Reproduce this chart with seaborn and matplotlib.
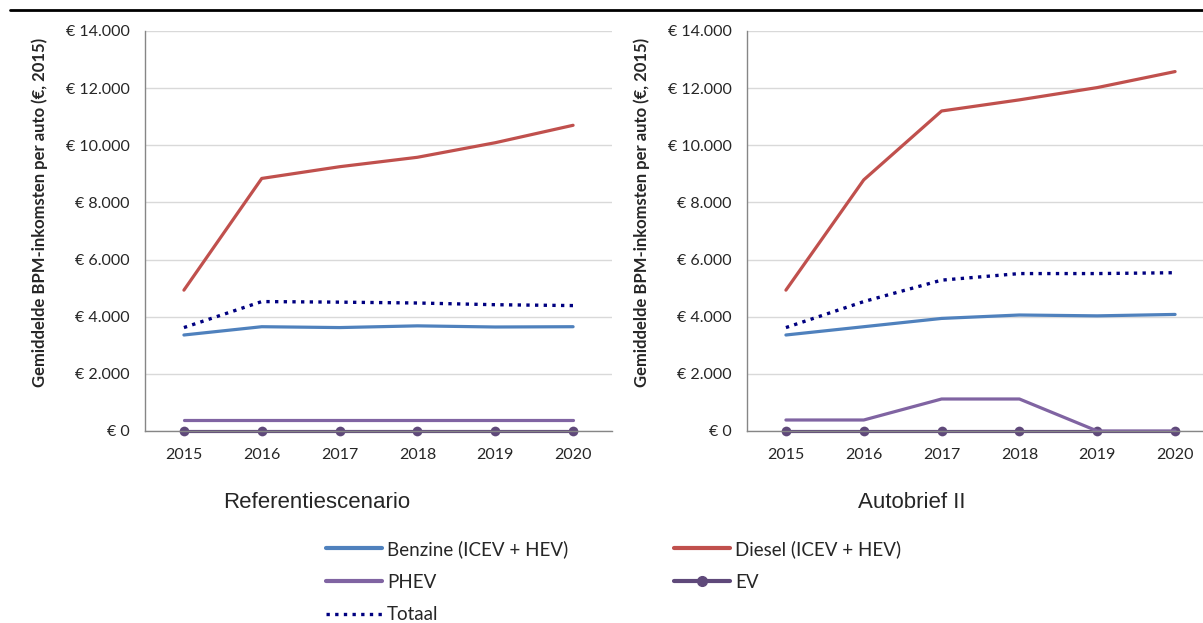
import numpy as np
import pandas as pd
import seaborn as sns
import matplotlib.pyplot as plt
from matplotlib.lines import Line2D
from matplotlib.ticker import FuncFormatter

# Data (euro per car, 2015 prices)
years = [2015, 2016, 2017, 2018, 2019, 2020]
panel_titles = ["Referentiescenario", "Autobrief II"]
series_names = ["Benzine (ICEV + HEV)", "Diesel (ICEV + HEV)", "PHEV", "EV", "Totaal"]

ref_benzine = [3360, 3650, 3620, 3680, 3640, 3650]
ref_diesel = [4930, 8840, 9250, 9580, 10090, 10700]
ref_phev = [385, 385, 385, 385, 385, 385]
ref_ev = [0, 0, 0, 0, 0, 0]
ref_totaal = [3620, 4530, 4510, 4480, 4420, 4390]

ab_benzine = [3360, 3650, 3940, 4060, 4030, 4080]
ab_diesel = [4930, 8790, 11200, 11590, 12020, 12580]
ab_phev = [385, 385, 1120, 1120, 0, 0]
ab_ev = [0, 0, 0, 0, 0, 0]
ab_totaal = [3620, 4530, 5280, 5510, 5510, 5540]

colors = {"Benzine (ICEV + HEV)": "#4F81BD", "Diesel (ICEV + HEV)": "#C0504D",
          "PHEV": "#8064A2", "EV": "#5F497A", "Totaal": "#000080"}

sns.set_style("white")
plt.rcParams['font.family'] = ['Lato', 'DejaVu Sans']

fig = plt.figure(figsize=(12.03, 6.23), dpi=100)
ax_l = fig.add_axes([145 / 1203, 1 - 431 / 623, 467 / 1203, 400 / 623])
ax_r = fig.add_axes([747 / 1203, 1 - 431 / 623, 467 / 1203, 400 / 623])

panels = [
    (ax_l, [ref_benzine, ref_diesel, ref_phev, ref_ev, ref_totaal]),
    (ax_r, [ab_benzine, ab_diesel, ab_phev, ab_ev, ab_totaal]),
]

euro = FuncFormatter(lambda v, p: "€ " + f"{int(v):,}".replace(",", "."))
xpos = np.arange(len(years))

for (ax, values), title in zip(panels, panel_titles):
    df = pd.DataFrame({name: vals for name, vals in zip(series_names, values)})
    df["pos"] = xpos
    for name in ["EV", "PHEV", "Benzine (ICEV + HEV)", "Totaal", "Diesel (ICEV + HEV)"]:
        kw = dict(color=colors[name], linewidth=2.3, ax=ax, legend=False)
        if name == "Totaal":
            kw.update(linestyle=(0, (1, 1.6)), linewidth=2.4)
        if name == "EV":
            kw.update(marker="o", markersize=7, markeredgewidth=0, clip_on=False)
        sns.lineplot(data=df, x="pos", y=name, **kw)

    ax.set_xlim(-0.5, len(years) - 0.5)
    ax.set_ylim(0, 14000)
    ax.set_yticks(np.arange(0, 14001, 2000))
    ax.yaxis.set_major_formatter(euro)
    ax.set_xticks(xpos)
    ax.set_xticklabels(years)
    ax.set_xticks(np.arange(-0.5, len(years), 1), minor=True)
    ax.tick_params(axis="x", which="major", length=0, pad=12, labelsize=11.5)
    ax.tick_params(axis="x", which="minor", length=5, color="#868686", width=1)
    ax.tick_params(axis="y", length=5, color="#868686", width=1, labelsize=11.5, pad=6)
    ax.grid(axis="y", color="#D9D9D9", linewidth=1)
    ax.set_axisbelow(True)
    for s in ["top", "right"]:
        ax.spines[s].set_visible(False)
    for s in ["left", "bottom"]:
        ax.spines[s].set_color("#868686")
        ax.spines[s].set_linewidth(1)
    ax.set_xlabel("")
    ax.set_ylabel("Gemiddelde BPM-inkomsten per auto (€, 2015)", fontsize=12,
                  fontweight="bold")
    ax.yaxis.set_label_coords(-0.208, 0.547)

fig.text(317 / 1203, 1 - 503 / 623, panel_titles[0], fontsize=16,
         family=["Liberation Sans"], ha="center", va="center")
fig.text(912 / 1203, 1 - 503 / 623, panel_titles[1], fontsize=16,
         family=["Liberation Sans"], ha="center", va="center")

# legend, column-major order
order = ["Benzine (ICEV + HEV)", "PHEV", "Totaal", "Diesel (ICEV + HEV)", "EV"]
handles = []
for name in order:
    if name == "Totaal":
        h = Line2D([], [], color=colors[name], linewidth=2.4, linestyle=(0, (1, 1.6)))
    elif name == "EV":
        h = Line2D([], [], color=colors[name], linewidth=3, marker="o", markersize=7)
    else:
        h = Line2D([], [], color=colors[name], linewidth=3)
    handles.append(h)
fig.legend(handles, order, ncol=2, loc="upper left",
           bbox_to_anchor=(326 / 1203, 1 - 540 / 623), frameon=False,
           fontsize=13.5, handlelength=3.0, handletextpad=0.25,
           columnspacing=5.65, labelspacing=0.84, borderpad=0, borderaxespad=0)

# black rule at the top
fig.add_artist(Line2D([10 / 1203, 1], [1 - 10 / 623, 1 - 10 / 623],
                      color="black", linewidth=2))

fig.savefig("out.png", dpi=100)
